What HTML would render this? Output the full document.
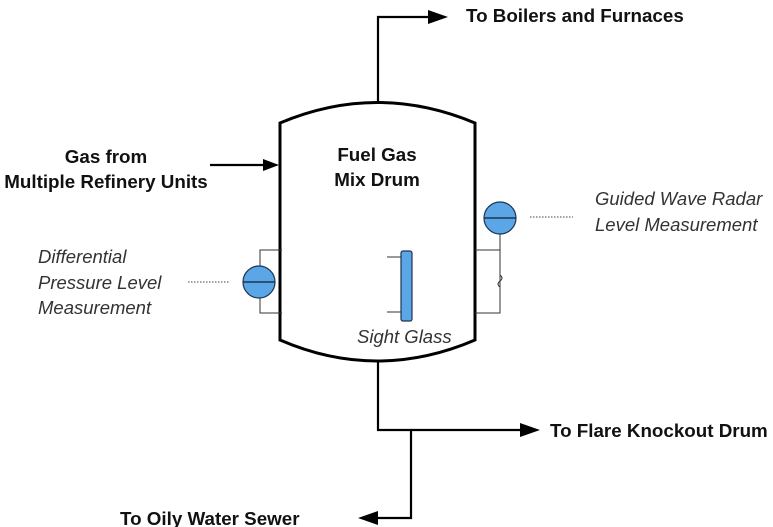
<!DOCTYPE html>
<html><head><style>
html,body{margin:0;padding:0;background:#fff;width:773px;height:527px;overflow:hidden}
svg text{font-family:"Liberation Sans",sans-serif;fill:#111}
.b{font-weight:bold;font-size:18.8px}
.i{font-style:italic;font-size:18.5px;fill:#333}
</style></head><body>
<svg width="773" height="527" viewBox="0 0 773 527" xmlns="http://www.w3.org/2000/svg">
<g stroke="#000" stroke-width="3" fill="none">
<path d="M280,123 Q377,82 475,123 L475,340 Q377,382 280,340 Z" fill="#fff"/>
</g>
<g stroke="#000" stroke-width="2.2" fill="none">
<path d="M378,103 L378,17 L430,17"/>
<path d="M378,361 L378,430 L525,430"/>
<path d="M411,430 L411,518 L372,518"/>
<path d="M210,165 L265,165"/>
</g>
<g fill="#000">
<path d="M448,17 L428,10 L428,24z"/>
<path d="M540,430 L520,423 L520,437z"/>
<path d="M358,518 L378,511 L378,525z"/>
<path d="M279,165 L263,159 L263,171z"/>
</g>
<g stroke="#333" stroke-width="1" fill="none">
<path d="M282,250 L260,250 L260,313 L282,313"/>
<path d="M475,250 L500,250 L500,313 L475,313"/>
<path d="M500,230 L500,250"/>
<path d="M500,275 q4,3 0,6 q-4,3 0,6" />
<path d="M387,257 L401,257 M387,312 L401,312"/>
</g>
<g stroke="#1e3550" stroke-width="1.2" fill="#5aa6e6">
<circle cx="259" cy="282" r="16"/>
<circle cx="500" cy="218" r="16"/>
<rect x="401" y="251" width="11" height="70" rx="2"/>
</g>
<path d="M243,282 L275,282 M484,218 L516,218" stroke="#1e3550" stroke-width="1.5"/>
<path d="M188,282 L229,282 M530,217 L573,217" stroke="#444" stroke-width="1" stroke-dasharray="1.5,1.5"/>
<text class="b" x="466" y="22">To Boilers and Furnaces</text>
<text class="b" x="377" y="161" text-anchor="middle">Fuel Gas</text>
<text class="b" x="377" y="186" text-anchor="middle">Mix Drum</text>
<text class="b" x="106" y="163" text-anchor="middle">Gas from</text>
<text class="b" x="106" y="188" text-anchor="middle">Multiple Refinery Units</text>
<text class="i" x="38" y="263">Differential</text>
<text class="i" x="38" y="289">Pressure Level</text>
<text class="i" x="38" y="314">Measurement</text>
<text class="i" x="595" y="205">Guided Wave Radar</text>
<text class="i" x="595" y="231">Level Measurement</text>
<text class="i" x="357" y="343">Sight Glass</text>
<text class="b" x="550" y="437">To Flare Knockout Drum</text>
<text class="b" x="120" y="525">To Oily Water Sewer</text>
</svg>
</body></html>
